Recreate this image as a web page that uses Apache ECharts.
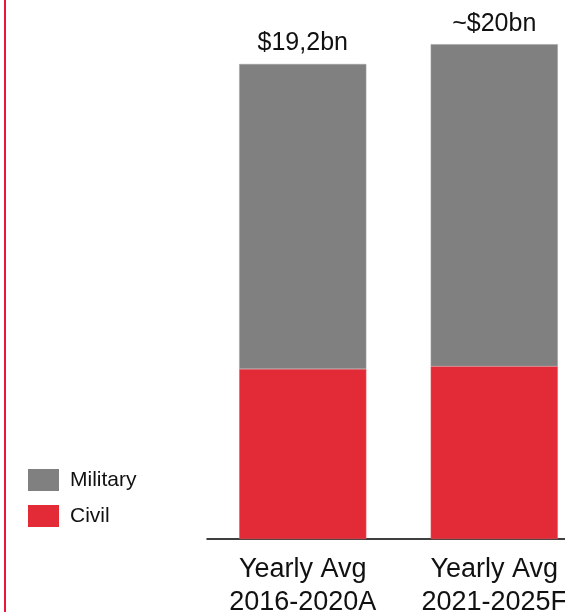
<!DOCTYPE html>
<html>
<head>
<meta charset="utf-8">
<script src="https://cdn.jsdelivr.net/npm/echarts@6/dist/echarts.min.js"></script>
<style>
html,body{margin:0;padding:0;background:#fff;}
#chart{width:565px;height:612px;}
</style>
</head>
<body>
<div id="chart"></div>
<script>
const categories = ['Yearly Avg\n2016-2020A', 'Yearly Avg\n2021-2025F'];
const civil = [6.87, 6.98];
const military = [12.33, 13.02];
const totalLabels = ['$19,2bn', '~$20bn'];
const seriesNames = ['Military', 'Civil'];

const chart = echarts.init(document.getElementById('chart'));
const font = '"Liberation Sans", Arial, sans-serif';
chart.setOption({
  animation: false,
  backgroundColor: '#ffffff',
  textStyle: { fontFamily: font },
  grid: { left: 207, top: 44.2, width: 383, height: 494.8, containLabel: false, outerBoundsMode: 'none' },
  legend: {
    data: seriesNames,
    orient: 'vertical',
    left: 28,
    top: 469,
    padding: 0,
    itemWidth: 31,
    itemHeight: 22,
    itemGap: 14,
    icon: 'rect',
    itemStyle: { borderWidth: 0 },
    textStyle: { fontSize: 21, color: '#111', fontFamily: font, padding: [2, 0, 0, 6] }
  },
  xAxis: {
    type: 'category',
    data: categories,
    axisLine: { show: true, lineStyle: { color: '#000', width: 1.5 } },
    axisTick: { show: false },
    axisLabel: { fontSize: 27, lineHeight: 33, color: '#111', margin: 14, fontFamily: font, interval: 0 }
  },
  yAxis: {
    type: 'value',
    min: 0,
    max: 20,
    show: false,
    splitLine: { show: false }
  },
  series: [
    {
      name: 'Civil',
      type: 'bar',
      stack: 'total',
      barWidth: '66.4%',
      data: civil,
      itemStyle: { color: '#e32b37', borderColor: '#ea5a63', borderWidth: 0.5 }
    },
    {
      name: 'Military',
      type: 'bar',
      stack: 'total',
      barWidth: '66.4%',
      data: military,
      itemStyle: { color: '#808080', borderColor: '#a0a0a0', borderWidth: 0.5 },
      label: {
        show: true,
        position: 'top',
        distance: 8,
        fontSize: 25,
        color: '#111',
        fontFamily: font,
        formatter: p => totalLabels[p.dataIndex]
      }
    }
  ],
  graphic: [
    { type: 'rect', left: 4, top: 0, shape: { x: 0, y: 0, width: 2, height: 612 }, style: { fill: '#e8173c' }, silent: true }
  ]
});
</script>
</body>
</html>
